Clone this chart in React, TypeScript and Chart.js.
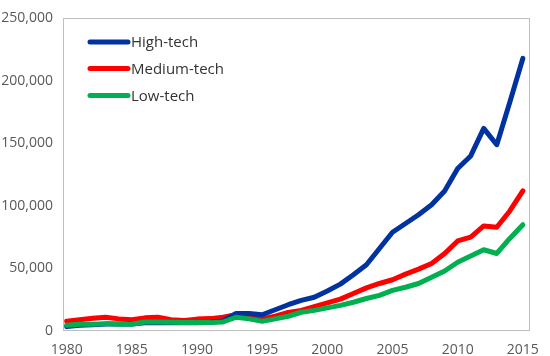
import React, { useEffect, useRef } from "react";
import { Chart, registerables } from "chart.js";

Chart.register(...registerables);

const years: number[] = [
  1980, 1981, 1982, 1983, 1984, 1985, 1986, 1987, 1988, 1989,
  1990, 1991, 1992, 1993, 1994, 1995, 1996, 1997, 1998, 1999,
  2000, 2001, 2002, 2003, 2004, 2005, 2006, 2007, 2008, 2009,
  2010, 2011, 2012, 2013, 2014, 2015,
];

const highTech: number[] = [
  3500, 4500, 5000, 5500, 5500, 5500, 6500, 6500, 6500, 6500,
  6500, 7000, 8000, 14000, 14000, 13000, 17000, 21000, 24500, 27000,
  32000, 37500, 45000, 53000, 66000, 79000, 86000, 93000, 101000, 112000,
  130000, 140000, 162000, 149000, 183000, 218000,
];

const mediumTech: number[] = [
  7900, 9000, 10200, 11000, 9700, 9000, 10500, 11000, 9000, 8400,
  9500, 9900, 11000, 13000, 12500, 9700, 11800, 14900, 16500, 19500,
  22500, 25500, 30000, 34500, 38000, 41000, 45500, 49500, 54000, 62000,
  72000, 75000, 84000, 83000, 96000, 112000,
];

const lowTech: number[] = [
  4600, 5400, 5400, 5900, 5400, 5400, 7200, 7200, 7000, 6700,
  6700, 6700, 7200, 11000, 9700, 7700, 9700, 11800, 15000, 16500,
  18500, 20500, 23000, 26000, 28500, 32500, 35000, 38000, 43000, 48000,
  55000, 60000, 65000, 62000, 74000, 85000,
];

const seriesLabels: string[] = ["High-tech", "Medium-tech", "Low-tech"];
const seriesColors: string[] = ["#0033A0", "#FF0000", "#00B050"];
const seriesOrder: number[] = [2, 3, 1];

const FONT = "'Open Sans', 'Noto Sans', sans-serif";

const boxPlugin = {
  id: "boxPlugin",
  beforeDatasetsDraw(chart: any) {
    const { ctx, chartArea } = chart;
    ctx.save();
    ctx.strokeStyle = "#BFBFBF";
    ctx.lineWidth = 1;
    ctx.strokeRect(
      Math.round(chartArea.left) + 0.5,
      Math.round(chartArea.top) + 0.5,
      Math.round(chartArea.right - chartArea.left) - 1,
      Math.round(chartArea.bottom - chartArea.top) - 1
    );
    ctx.restore();
  },
};

const legendPlugin = {
  id: "insideLegend",
  afterDatasetsDraw(chart: any) {
    const { ctx } = chart;
    const x0 = 90;
    const x1 = 128;
    const ys = [42, 68.5, 95.5];
    ctx.save();
    chart.data.datasets.forEach((ds: any, i: number) => {
      const y = ys[i];
      ctx.strokeStyle = ds.borderColor;
      ctx.lineWidth = 5;
      ctx.lineCap = "round";
      ctx.beginPath();
      ctx.moveTo(x0, y);
      ctx.lineTo(x1, y);
      ctx.stroke();
      ctx.fillStyle = "#333333";
      ctx.font = `15px ${FONT}`;
      ctx.textBaseline = "middle";
      ctx.textAlign = "left";
      ctx.fillText(ds.label, x1 + 3, y + 1);
    });
    ctx.restore();
  },
};

export default function App() {
  const canvasRef = useRef<HTMLCanvasElement | null>(null);

  useEffect(() => {
    const canvas = canvasRef.current;
    if (!canvas) return;
    const seriesData = [highTech, mediumTech, lowTech];
    const chart = new Chart(canvas, {
      type: "line",
      data: {
        datasets: seriesData.map((vals, i) => ({
          label: seriesLabels[i],
          data: years.map((yr, j) => ({ x: yr, y: vals[j] })),
          borderColor: seriesColors[i],
          backgroundColor: seriesColors[i],
          borderWidth: 5,
          pointRadius: 0,
          pointHoverRadius: 0,
          tension: 0,
          borderCapStyle: "round" as const,
          borderJoinStyle: "round" as const,
          fill: false,
          order: seriesOrder[i],
        })),
      },
      options: {
        animation: false,
        responsive: false,
        maintainAspectRatio: false,
        layout: { padding: { top: 6, right: 10, left: 0, bottom: 0 } },
        plugins: {
          legend: { display: false },
          tooltip: { enabled: false },
        },
        scales: {
          x: {
            type: "linear",
            min: 1979.72,
            max: 2015.56,
            grid: { display: false, drawTicks: false },
            border: { display: false },
            ticks: {
              stepSize: 5,
              includeBounds: false,
              autoSkip: false,
              maxRotation: 0,
              padding: 11,
              color: "#595959",
              font: { family: FONT, size: 14 },
              callback: (v: any) => String(v),
            },
            afterFit: (scale: any) => {
              scale.height = 25;
            },
          },
          y: {
            type: "linear",
            min: 0,
            max: 250000,
            grid: { display: false, drawTicks: false },
            border: { display: false },
            ticks: {
              stepSize: 50000,
              padding: 10,
              color: "#595959",
              font: { family: FONT, size: 14 },
              callback: (v: any) => Number(v).toLocaleString("en-US"),
            },
            afterFit: (scale: any) => {
              scale.width = 63;
            },
          },
        },
      },
      plugins: [boxPlugin, legendPlugin],
    });
    return () => chart.destroy();
  }, []);

  return (
    <div style={{ position: "absolute", left: 0, top: 0, width: 550, height: 356, background: "#fff" }}>
      <canvas ref={canvasRef} width={550} height={356} style={{ width: 550, height: 356, display: "block" }} />
    </div>
  );
}
